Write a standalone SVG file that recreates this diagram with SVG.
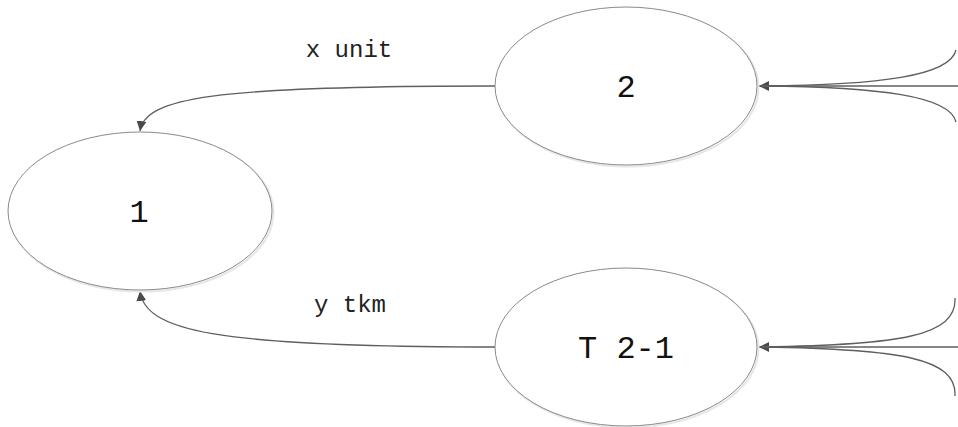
<svg xmlns="http://www.w3.org/2000/svg" width="958" height="427" viewBox="0 0 958 427">
<style>
.node ellipse{fill:#fff;stroke:#8a8a8a;stroke-width:1}
.node ellipse.shadow{fill:none;stroke:#e6e6e6;stroke-width:2}
.nt{font-family:"Liberation Mono","Courier New",monospace;font-size:32px;fill:#111;text-anchor:middle}
.lbl{font-family:"Liberation Mono","Courier New",monospace;font-size:24px;fill:#222;text-anchor:middle}
.edge{fill:none;stroke:#5f5f5f;stroke-width:1.3}
</style>
<defs>
<marker id="arr" viewBox="0 0 10 10" refX="10" refY="5" markerWidth="10" markerHeight="10" markerUnits="userSpaceOnUse" orient="auto">
<path d="M0,0 L10,5 L0,10 Z" fill="#4a4a4a"/>
</marker>
</defs>
<g id="connectors">
<path class="edge" d="M495,86 C210,86 145,98 140,131" marker-end="url(#arr)"/>
<path class="edge" d="M495,347 C210,347 145,330 140,291" marker-end="url(#arr)"/>
<path class="edge" d="M958,86 L759,86" marker-end="url(#arr)"/>
<path class="edge" d="M956,50 C950,76 880,85 762,86"/>
<path class="edge" d="M956,122 C950,96 880,87 762,86"/>
<path class="edge" d="M958,347 L759,347" marker-end="url(#arr)"/>
<path class="edge" d="M955,298 C957,336 900,345 762,347"/>
<path class="edge" d="M955,396 C957,358 900,349 762,347"/>
<text class="lbl" x="349" y="57">x unit</text>
<text class="lbl" x="350" y="312">y tkm</text>
</g>
<g id="node1" class="node">
<ellipse class="shadow" cx="141.5" cy="212.5" rx="132" ry="79"/>
<ellipse cx="140" cy="211" rx="132" ry="79"/>
<text class="nt" x="139" y="222">1</text>
</g>
<g id="node2" class="node">
<ellipse class="shadow" cx="627.5" cy="87.5" rx="131" ry="79"/>
<ellipse cx="626" cy="86" rx="131" ry="79"/>
<text class="nt" x="626" y="97">2</text>
</g>
<g id="nodeT21" class="node">
<ellipse class="shadow" cx="627.5" cy="348.5" rx="131" ry="79"/>
<ellipse cx="626" cy="347" rx="131" ry="79"/>
<text class="nt" x="626" y="358">T 2-1</text>
</g>
</svg>
